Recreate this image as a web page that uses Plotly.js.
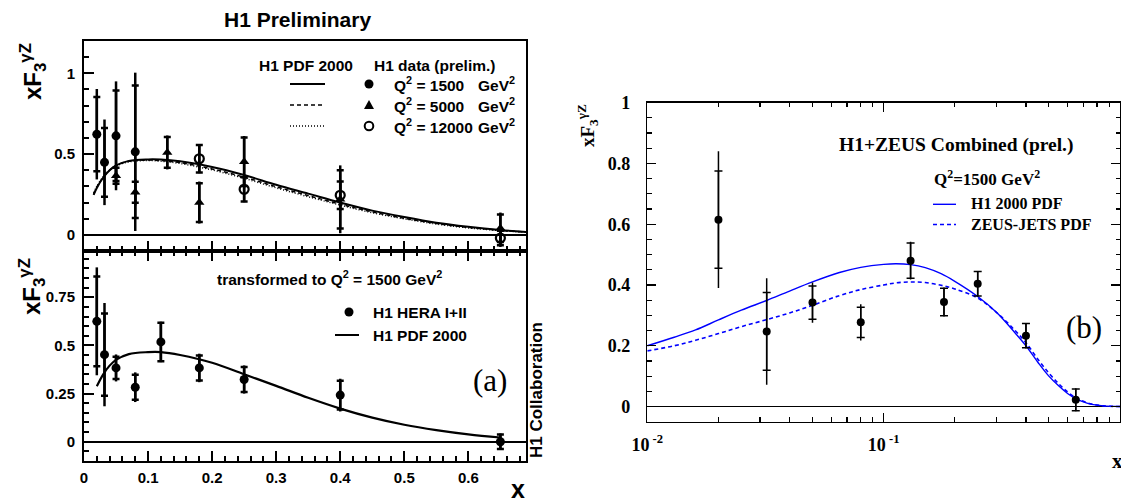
<!DOCTYPE html>
<html>
<head>
<meta charset="utf-8">
<script src="https://cdn.plot.ly/plotly-3.0.1.min.js"></script>
<style>html,body{margin:0;padding:0;background:#fff;}#chart{width:1121px;height:504px;}</style>
</head>
<body>
<div id="chart"></div>
<script>
// ---------- Panel (a), upper: H1 data at three Q2 values ----------
const xTop1500 = [0.02, 0.032, 0.05, 0.08];
const yTop1500 = [0.623, 0.449, 0.613, 0.514];
const statTop1500 = [0.23, 0.213, 0.28, 0.41];
const totTop1500 = [0.28, 0.265, 0.337, 0.49];

const xTop5000 = [0.05, 0.08, 0.13, 0.18, 0.25, 0.40, 0.65];
const yTop5000 = [0.366, 0.264, 0.51, 0.20, 0.452, 0.22, 0.041];
const statTop5000 = [0.05, 0.065, 0.095, 0.12, 0.15, 0.18, 0.085];
const totTop5000 = [0.06, 0.082, 0.105, 0.13, 0.16, 0.21, 0.097];

const xTop12000 = [0.18, 0.25, 0.40, 0.65];
const yTop12000 = [0.471, 0.282, 0.245, -0.02];
const statTop12000 = [0.085, 0.075, 0.085, 0.045];
const totTop12000 = [0.09, 0.08, 0.095, 0.055];

// H1 PDF 2000 predictions at the three Q2 values
const xCurveTop = [0.015,0.02,0.03,0.04,0.05,0.07,0.1,0.12,0.15,0.2,0.25,0.3,0.35,0.4,0.45,0.5,0.55,0.6,0.65,0.69];
const yCurve1500 = [0.247,0.29,0.355,0.40,0.43,0.458,0.467,0.466,0.455,0.42,0.37,0.31,0.255,0.20,0.15,0.11,0.075,0.05,0.03,0.018];
const yCurve5000 = [0.25,0.295,0.357,0.40,0.428,0.455,0.463,0.46,0.447,0.408,0.357,0.298,0.243,0.19,0.142,0.103,0.07,0.046,0.028,0.017];
const yCurve12000 = [0.26,0.30,0.36,0.40,0.426,0.452,0.46,0.456,0.442,0.402,0.35,0.291,0.236,0.184,0.137,0.099,0.067,0.043,0.026,0.016];

// ---------- Panel (a), lower: transformed to Q2 = 1500 ----------
const xBot = [0.02,0.032,0.05,0.08,0.12,0.18,0.25,0.40,0.65];
const yBot = [0.625,0.452,0.383,0.283,0.518,0.383,0.323,0.242,0.0];
const statBot = [0.233,0.213,0.058,0.065,0.10,0.065,0.065,0.075,0.038];
const totBot = [0.28,0.268,0.07,0.077,0.105,0.074,0.073,0.085,0.043];
const xCurveBot = [0.02,0.03,0.04,0.05,0.07,0.1,0.12,0.15,0.2,0.25,0.3,0.35,0.4,0.45,0.5,0.55,0.6,0.65];
const yCurveBot = [0.288,0.35,0.395,0.425,0.455,0.465,0.465,0.45,0.41,0.35,0.29,0.228,0.172,0.125,0.088,0.06,0.038,0.022];

// ---------- Panel (b): H1+ZEUS combined ----------
const xComb = [0.02,0.032,0.05,0.08,0.13,0.18,0.25,0.40,0.65];
const yComb = [0.615,0.247,0.342,0.277,0.48,0.344,0.404,0.233,0.022];
const statComb = [0.16,0.128,0.055,0.05,0.058,0.045,0.04,0.04,0.036];
const totComb = [0.225,0.175,0.066,0.06,0.062,0.048,0.042,0.042,0.038];
const xPdf = [0.01,0.013,0.016,0.02,0.025,0.032,0.04,0.05,0.065,0.08,0.1,0.113,0.13,0.15,0.175,0.2,0.25,0.3,0.36,0.4,0.45,0.5,0.55,0.6,0.65,0.7,0.76,0.85,1.0];
const yH1Pdf = [0.2,0.228,0.252,0.285,0.317,0.349,0.38,0.41,0.441,0.458,0.468,0.47,0.467,0.457,0.437,0.412,0.362,0.31,0.242,0.2,0.145,0.1,0.068,0.043,0.026,0.015,0.007,0.002,0];
const yZeusPdf = [0.183,0.2,0.218,0.24,0.263,0.286,0.308,0.333,0.365,0.385,0.4,0.407,0.41,0.408,0.399,0.387,0.357,0.31,0.25,0.21,0.155,0.11,0.075,0.048,0.029,0.017,0.008,0.002,0];

// tick labels
const topYTicks = [0, 0.5, 1];
const topYText = ['0', '0.5', '1'];
const botYTicks = [0, 0.25, 0.5, 0.75];
const botYText = ['0', '0.25', '0.5', '0.75'];
const botXTicks = [0, 0.1, 0.2, 0.3, 0.4, 0.5, 0.6];
const botXText = ['0', '0.1', '0.2', '0.3', '0.4', '0.5', '0.6'];
const logXTicks = [0.01, 0.1, 1];
const logXText = ['10<sup> -2</sup>', '10<sup> -1</sup>', '1'];
const logXMinor = [0.02,0.03,0.04,0.05,0.06,0.07,0.08,0.09,0.2,0.3,0.4,0.5,0.6,0.7,0.8,0.9];
const rightYTicks = [0, 0.2, 0.4, 0.6, 0.8, 1];
const rightYText = ['0', '0.2', '0.4', '0.6', '0.8', '1'];

// ---------- helpers ----------
const W = 1121, H = 504;
const px = v => v / W;
const py = v => 1 - v / H;
const SANS = 'Liberation Sans, Arial, sans-serif';
const SERIF = 'Liberation Serif, Times New Roman, serif';

function errTraces(x, y, stat, tot, xa, ya, thick, capw, marker) {
  return [
    {x, y, xaxis: xa, yaxis: ya, type: 'scatter', mode: 'markers', marker: {opacity: 0, size: 1},
     error_y: {type: 'data', array: tot, visible: true, color: 'black', thickness: thick, width: 0}, hoverinfo: 'skip'},
    {x, y, xaxis: xa, yaxis: ya, type: 'scatter', mode: 'markers', marker: {opacity: 0, size: 1},
     error_y: {type: 'data', array: stat, visible: true, color: 'black', thickness: thick, width: capw}, hoverinfo: 'skip'},
    {x, y, xaxis: xa, yaxis: ya, type: 'scatter', mode: 'markers', marker: marker}
  ];
}

const traces = [];
// top panel curves
traces.push({x: xCurveTop, y: yCurve1500, xaxis: 'x', yaxis: 'y', mode: 'lines', line: {color: 'black', width: 2, shape: 'spline'}});
traces.push({x: xCurveTop, y: yCurve5000, xaxis: 'x', yaxis: 'y', mode: 'lines', line: {color: 'black', width: 1.5, dash: '4px,3px', shape: 'spline'}});
traces.push({x: xCurveTop, y: yCurve12000, xaxis: 'x', yaxis: 'y', mode: 'lines', line: {color: 'black', width: 1.5, dash: '1px,2px', shape: 'spline'}});
// top panel points
traces.push(...errTraces(xTop1500, yTop1500, statTop1500, totTop1500, 'x', 'y', 2.5, 3.5,
  {symbol: 'circle', size: 9, color: 'black'}));
traces.push(...errTraces(xTop5000, yTop5000, statTop5000, totTop5000, 'x', 'y', 2.5, 3.5,
  {symbol: 'triangle-up', size: 9, color: 'black'}));
traces.push(...errTraces(xTop12000, yTop12000, statTop12000, totTop12000, 'x', 'y', 2.5, 3.5,
  {symbol: 'circle-open', size: 9, color: 'black', line: {width: 2.2, color: 'black'}}));
// bottom panel
traces.push({x: xCurveBot, y: yCurveBot, xaxis: 'x2', yaxis: 'y2', mode: 'lines', line: {color: 'black', width: 2.2, shape: 'spline'}});
traces.push(...errTraces(xBot, yBot, statBot, totBot, 'x2', 'y2', 2.5, 3.5,
  {symbol: 'circle', size: 9, color: 'black'}));
// right panel
traces.push({x: xPdf, y: yH1Pdf, xaxis: 'x3', yaxis: 'y3', mode: 'lines', line: {color: '#0000ff', width: 1.4, shape: 'spline', smoothing: 1}});
traces.push({x: xPdf, y: yZeusPdf, xaxis: 'x3', yaxis: 'y3', mode: 'lines', line: {color: '#0000ff', width: 1.6, dash: '4px,3px', shape: 'spline', smoothing: 1}});
traces.push(...errTraces(xComb, yComb, statComb, totComb, 'x3', 'y3', 1.5, 4,
  {symbol: 'circle', size: 8, color: 'black'}));

const leftDom = [px(84), px(526)];
const sansTick = {family: SANS, size: 15, color: 'black', weight: 'bold'};
const serifTick = {family: SERIF, size: 18, color: 'black', weight: 'bold'};

const layout = {
  width: W, height: H,
  margin: {l: 0, r: 0, t: 0, b: 0},
  paper_bgcolor: 'white', plot_bgcolor: 'white',
  showlegend: false,
  xaxis: {domain: leftDom, range: [0, 0.69], anchor: 'y', showgrid: false, zeroline: false,
    showline: true, linecolor: 'black', linewidth: 2, mirror: true,
    ticks: 'inside', ticklen: 10, tickwidth: 2, tickcolor: 'black', tickmode: 'array', tickvals: botXTicks,
    showticklabels: false,
    minor: {dtick: 0.02, tick0: 0, ticks: 'inside', ticklen: 5, tickwidth: 2, tickcolor: 'black'}},
  yaxis: {domain: [py(251), py(41)], range: [-0.1, 1.2], anchor: 'x', showgrid: false,
    zeroline: true, zerolinecolor: 'black', zerolinewidth: 2,
    showline: true, linecolor: 'black', linewidth: 2, mirror: true,
    ticks: 'inside', ticklen: 10, tickwidth: 2, tickcolor: 'black',
    tickmode: 'array', tickvals: topYTicks, ticktext: topYText, tickfont: sansTick, ticklabelstandoff: 4,
    minor: {dtick: 0.1, tick0: 0, ticks: 'inside', ticklen: 5, tickwidth: 2, tickcolor: 'black'}},
  xaxis2: {domain: leftDom, range: [0, 0.69], anchor: 'y2', showgrid: false, zeroline: false,
    showline: true, linecolor: 'black', linewidth: 2, mirror: 'ticks',
    ticks: 'inside', ticklen: 10, tickwidth: 2, tickcolor: 'black',
    tickmode: 'array', tickvals: botXTicks, ticktext: botXText, tickfont: sansTick, ticklabelstandoff: 2,
    minor: {dtick: 0.02, tick0: 0, ticks: 'inside', ticklen: 5, tickwidth: 2, tickcolor: 'black'}},
  yaxis2: {domain: [py(461), py(251)], range: [-0.1, 0.99], anchor: 'x2', showgrid: false,
    zeroline: true, zerolinecolor: 'black', zerolinewidth: 2,
    showline: true, linecolor: 'black', linewidth: 2, mirror: true,
    ticks: 'inside', ticklen: 10, tickwidth: 2, tickcolor: 'black',
    tickmode: 'array', tickvals: botYTicks, ticktext: botYText, tickfont: sansTick, ticklabelstandoff: 4,
    minor: {dtick: 0.05, tick0: 0, ticks: 'inside', ticklen: 5, tickwidth: 2, tickcolor: 'black'}},
  xaxis3: {type: 'log', domain: [px(647.3), px(1120)], range: [-2, 0], anchor: 'y3', showgrid: false, zeroline: false,
    showline: true, linecolor: 'black', linewidth: 1.5, mirror: 'ticks',
    ticks: 'inside', ticklen: 9, tickwidth: 1.2, tickcolor: 'black',
    tickmode: 'array', tickvals: logXTicks, ticktext: logXText, tickfont: serifTick, ticklabelstandoff: 6,
    minor: {tickmode: 'array', tickvals: logXMinor, ticks: 'inside', ticklen: 4.5, tickwidth: 1.2, tickcolor: 'black'}},
  yaxis3: {domain: [py(421.7), py(102.7)], range: [-0.05, 1.0], anchor: 'x3', showgrid: false,
    zeroline: true, zerolinecolor: 'black', zerolinewidth: 1.2,
    showline: true, linecolor: 'black', linewidth: 1.5, mirror: 'ticks',
    ticks: 'inside', ticklen: 9, tickwidth: 1.2, tickcolor: 'black',
    tickmode: 'array', tickvals: rightYTicks, ticktext: rightYText, tickfont: serifTick, ticklabelstandoff: 12,
    minor: {dtick: 0.05, tick0: 0, ticks: 'inside', ticklen: 4.5, tickwidth: 1.2, tickcolor: 'black'}},
  annotations: [],
  shapes: []
};

function ann(text, x, y, opts) {
  layout.annotations.push(Object.assign({text, x: px(x), y: py(y), xref: 'paper', yref: 'paper',
    showarrow: false, xanchor: 'center', yanchor: 'middle',
    font: {family: SANS, size: 15.5, color: 'black', weight: 'bold'}}, opts || {}));
}
function hline(x0, x1, y, width, dash, color) {
  layout.shapes.push({type: 'line', xref: 'paper', yref: 'paper', x0: px(x0), x1: px(x1), y0: py(y), y1: py(y),
    line: {color: color || 'black', width: width, dash: dash || 'solid'}});
}
function dot(cx, cy, r, filled) {
  layout.shapes.push({type: 'circle', xref: 'paper', yref: 'paper', x0: px(cx - r), x1: px(cx + r), y0: py(cy + r), y1: py(cy - r),
    fillcolor: filled ? 'black' : 'white', line: {color: 'black', width: filled ? 0 : 2}});
}
function tri(cx, cy, r) {
  const p = `M ${px(cx - r)} ${py(cy + r * 0.8)} L ${px(cx + r)} ${py(cy + r * 0.8)} L ${px(cx)} ${py(cy - r)} Z`;
  layout.shapes.push({type: 'path', xref: 'paper', yref: 'paper', path: p, fillcolor: 'black', line: {width: 0}});
}

// Panel (a) texts
ann('H1 Preliminary', 297, 20, {font: {family: SANS, size: 21, color: 'black', weight: 'bold'}});
ann('xF<sub>3</sub><sup>γZ</sup>', 33, 72, {textangle: -90, font: {family: SANS, size: 24, color: 'black', weight: 'bold'}});
ann('xF<sub>3</sub><sup>γZ</sup>', 32, 287, {textangle: -90, font: {family: SANS, size: 24, color: 'black', weight: 'bold'}});
ann('H1 PDF 2000', 257, 65, {xanchor: 'left'});
ann('H1 data (prelim.)', 372, 65, {xanchor: 'left'});
ann('Q<sup>2</sup> = 1500', 392, 84, {xanchor: 'left'});
ann('Q<sup>2</sup> = 5000', 392, 105, {xanchor: 'left'});
ann('Q<sup>2</sup> = 12000', 392, 126, {xanchor: 'left'});
ann('GeV<sup>2</sup>', 517, 84, {xanchor: 'right'});
ann('GeV<sup>2</sup>', 517, 105, {xanchor: 'right'});
ann('GeV<sup>2</sup>', 517, 126, {xanchor: 'right'});
hline(290, 325, 84, 2);
hline(290, 325, 105, 1.5, '4px,3px');
hline(290, 325, 126, 1.5, '1px,2px');
dot(369, 84, 4.5, true);
tri(369, 105, 5);
dot(369, 126, 4.3, false);

ann('transformed to Q<sup>2</sup> = 1500 GeV<sup>2</sup>', 329, 278);
dot(349, 312, 4.5, true);
ann('H1 HERA I+II', 371, 312, {xanchor: 'left'});
hline(335, 359, 335, 2);
ann('H1 PDF 2000', 371, 335, {xanchor: 'left'});
ann('(a)', 490, 380, {font: {family: SERIF, size: 31, color: 'black'}});
ann('H1 Collaboration', 536, 390, {textangle: -90, font: {family: SANS, size: 17, color: 'black', weight: 'bold'}});
ann('x', 518, 489, {font: {family: SANS, size: 25, color: 'black', weight: 'bold'}});

// Panel (b) texts
ann('xF<sub>3</sub><sup>γZ</sup>', 587, 126, {textangle: -90, font: {family: SERIF, size: 19, color: 'black', weight: 'bold'}});
ann('H1+ZEUS Combined (prel.)', 837, 145, {xanchor: 'left', font: {family: SERIF, size: 19.5, color: 'black', weight: 'bold'}});
ann('Q<sup>2</sup>=1500 GeV<sup>2</sup>', 932, 178, {xanchor: 'left', font: {family: SERIF, size: 17, color: 'black', weight: 'bold'}});
hline(933, 956, 204.3, 1.4, 'solid', '#0000ff');
hline(933, 956, 224.5, 1.6, '4px,3px', '#0000ff');
ann('H1 2000 PDF', 969, 203.5, {xanchor: 'left', font: {family: SERIF, size: 16, color: 'black', weight: 'bold'}});
ann('ZEUS-JETS PDF', 969, 224, {xanchor: 'left', font: {family: SERIF, size: 16, color: 'black', weight: 'bold'}});
ann('(b)', 1084, 327, {font: {family: SERIF, size: 31, color: 'black'}});
ann('x', 1117, 461, {font: {family: SERIF, size: 21, color: 'black', weight: 'bold'}});

Plotly.newPlot('chart', traces, layout, {displayModeBar: false, staticPlot: true});
</script>
</body>
</html>
